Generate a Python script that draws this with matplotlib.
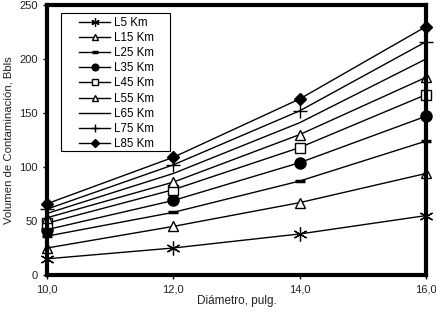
import matplotlib
matplotlib.use("Agg")
import matplotlib.pyplot as plt
from matplotlib.patches import Rectangle

plt.rcParams['font.family'] = ['Liberation Sans', 'DejaVu Sans']

W, H = 436, 313

diametros = [10.0, 12.0, 14.0, 16.0]
etiquetas = ['L5 Km', 'L15 Km', 'L25 Km', 'L35 Km', 'L45 Km',
             'L55 Km', 'L65 Km', 'L75 Km', 'L85 Km']

# volumen de contaminacion (Bbls) por longitud
l5 = [15, 25, 38, 55]
l15 = [25, 45, 67, 94]
l25 = [36, 58, 87, 124]
l35 = [42, 69, 104, 147]
l45 = [48, 79, 118, 167]
l55 = [53, 86, 130, 183]
l65 = [57, 94, 141, 200]
l75 = [61, 102, 152, 216]
l85 = [66, 109, 163, 230]

series = [l5, l15, l25, l35, l45, l55, l65, l75, l85]
estilos = [
    dict(marker=(6, 2, 0), ms=10, mfc='black', mew=0.9),
    dict(marker='^', ms=7, mfc='white', mew=1.0),
    dict(marker='_', ms=7, mew=2.5),
    dict(marker='o', ms=8, mfc='black'),
    dict(marker='s', ms=7, mfc='white', mew=1.0),
    dict(marker='^', ms=7, mfc='white', mew=1.0),
    dict(marker=None),
    dict(marker='+', ms=10, mew=1.0),
    dict(marker='D', ms=6.5, mfc='black'),
]

fig = plt.figure(figsize=(W / 100, H / 100), dpi=100)
ax = fig.add_axes([47 / W, 1 - 275 / H, (426 - 47) / W, 270 / H])

for vals, lab, st in zip(series, etiquetas, estilos):
    ax.plot(diametros, vals, color='black', lw=1.0, mec='black',
            label=lab, clip_on=False, **st)

ax.set_xlim(10, 16)
ax.set_ylim(0, 250)
ax.set_xticks([10, 12, 14, 16])
ax.set_xticklabels(['10,0', '12,0', '14,0', '16,0'])
ax.set_yticks(range(0, 251, 50))
for s in ax.spines.values():
    s.set_linewidth(3)
ax.tick_params(axis='both', labelsize=8, length=3, width=1,
               labelcolor='#222222', direction='out')
ax.set_xlabel('Diámetro, pulg.', fontsize=8.5, color='#222222', labelpad=1)
ax.set_ylabel('Volumen de Contaminación, Bbls', fontsize=8.2,
              color='#222222', labelpad=4)

# leyenda sin marco + recuadro propio (mas ancho que el de matplotlib)
leg = ax.legend(loc='upper left', bbox_to_anchor=(79 / W, 1 - 17 / H),
                bbox_transform=fig.transFigure, fontsize=8.3, frameon=False,
                handlelength=2.7, handletextpad=0.35, labelspacing=0.27,
                borderpad=0, borderaxespad=0, markerscale=0.6)
leg.set_zorder(6)
caja = Rectangle((61 / W, 1 - 151 / H), 109 / W, 138 / H,
                 transform=fig.transFigure, facecolor='white',
                 edgecolor='black', lw=0.8, zorder=5, clip_on=False)
ax.add_patch(caja)

fig.savefig('out.png', dpi=100)
